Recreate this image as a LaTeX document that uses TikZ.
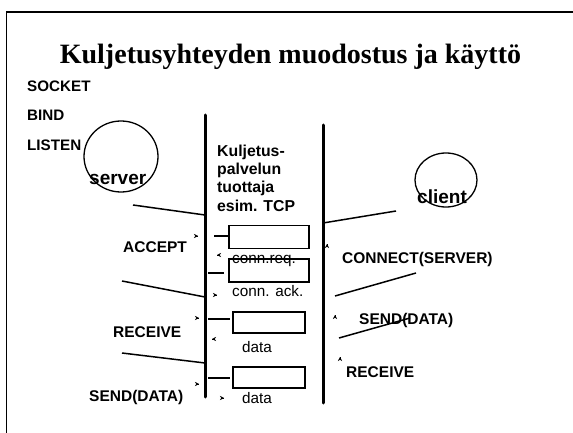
\documentclass[tikz,border=0pt]{standalone}
\usepackage{fontspec}
\setmainfont{Liberation Sans}
\newfontfamily\titlefont{Liberation Serif}
\usetikzlibrary{arrows.meta,calc}
\begin{document}
\begin{tikzpicture}[x=1pt,y=-1pt,
  lbl/.style={anchor=base west,inner sep=0pt,font=\fontsize{15.5}{18}\selectfont\bfseries},
  toplbl/.style={anchor=base west,inner sep=0pt,font=\fontsize{15.2}{18}\selectfont\bfseries},
  msg/.style={anchor=base west,inner sep=0pt,font=\fontsize{15.3}{18}\selectfont},
  ent/.style={anchor=base west,inner sep=0pt,font=\fontsize{19}{22}\selectfont\bfseries},
  pkt/.style={draw,line width=1.3pt,minimum width=80pt,minimum height=23pt,inner sep=0pt},
  pkts/.style={draw,line width=1.3pt,minimum width=72pt,minimum height=21pt,inner sep=0pt},
  axis/.style={line width=3pt,line cap=round},
  conn/.style={line width=1.5pt},
  tipr/.style={-{Stealth[length=4pt,width=4pt]},line width=0.4pt}]
\useasboundingbox (0,0) rectangle (573,433);
% frame
\coordinate (ftl) at (6.5,12);
\coordinate (ftr) at (573,12);
\coordinate (fbl) at (6.5,433);
\draw[line width=1.5pt] (fbl) -- (ftl) -- (ftr);
% title
\node[anchor=base,inner sep=0pt,font=\titlefont\fontsize{28}{32}\selectfont\bfseries] (title) at (290.5,64) {Kuljetusyhteyden muodostus ja käyttö};
% top labels
\node[toplbl] (socket) at (27,92) {SOCKET};
\node[toplbl] (bind) at (27,121) {BIND};
\node[toplbl] (listen) at (27,151) {LISTEN};
% server / client
\draw[line width=1.3pt] (121,156.5) ellipse [x radius=37, y radius=35.5];
\node[ent] (server) at (89,184) {server};
\draw[line width=1.3pt] (446,180) ellipse [x radius=31, y radius=27];
\node[ent] (client) at (417,203) {client};
% vertical axes
\coordinate (lt) at (205,115);
\coordinate (lb) at (205,397);
\coordinate (rt) at (323,125);
\coordinate (rb) at (323,403);
\draw[axis] (lt) -- (lb);
\draw[axis] (rt) -- (rb);
% provider text
\node[anchor=north west,inner sep=0pt,align=left,font=\fontsize{15.8}{18.3}\selectfont\bfseries] (tcp) at (217,144.5) {Kuljetus-\\palvelun\\tuottaja\\esim. TCP};
% packets
\node[pkt] (b1) at (269,237) {};
\node[pkt] (b2) at (269,270.5) {};
\node[pkts] (b3) at (269,322.5) {};
\node[pkts] (b4) at (269,377.5) {};
\coordinate (s1) at (214,236);
\coordinate (s2) at (208,273);
\coordinate (s2e) at (224,273);
\coordinate (s3) at (208,319);
\coordinate (s3e) at (230,319);
\coordinate (s4) at (208,378);
\coordinate (s4e) at (230,378);
\draw[line width=1.3pt] (s1) -- (b1.west |- s1);
\draw[line width=1.3pt] (s2) -- (s2e);
\draw[line width=1.3pt] (s3) -- (s3e);
\draw[line width=1.3pt] (s4) -- (s4e);
\node[msg] (creq) at (232,263) {conn.req.};
\node[msg] (cack) at (232,296) {conn. ack.};
\node[msg] (d1) at (242,352) {data};
\node[msg] (d2) at (242,403) {data};
% left slanted lines
\coordinate (l1a) at (133,205); \coordinate (l1b) at (205,215);
\coordinate (l2a) at (122,281); \coordinate (l2b) at (205,297);
\coordinate (l3a) at (122,353); \coordinate (l3b) at (205,363);
\draw[conn] (l1a) -- (l1b);
\draw[conn] (l2a) -- (l2b);
\draw[conn] (l3a) -- (l3b);
% right slanted lines
\coordinate (r1a) at (323,223); \coordinate (r1b) at (396,211);
\coordinate (r2a) at (335,296); \coordinate (r2b) at (416,273);
\coordinate (r3a) at (339,338); \coordinate (r3b) at (410,318);
\draw[conn] (r1a) -- (r1b);
\draw[conn] (r2a) -- (r2b);
\draw[conn] (r3a) -- (r3b);
% labels
\node[lbl] (accept) at (123,252) {ACCEPT};
\node[lbl] (recvl) at (113,337) {RECEIVE};
\node[lbl] (sendl) at (89,401) {SEND(DATA)};
\node[lbl] (connect) at (342,263) {CONNECT(SERVER)};
\node[lbl] (sendr) at (359,324) {SEND(DATA)};
\node[lbl] (recvr) at (346,377) {RECEIVE};
% tiny arrow tips
\foreach \x/\y in {198/236, 217/295, 199/318, 199/384, 224/398}
  \draw[tipr] (\x-0.3,\y) -- (\x,\y);
\foreach \x/\y in {217/255, 212/339}
  \draw[tipr] (\x+0.3,\y) -- (\x,\y);
\foreach \x/\y in {327/244, 335/315, 340/357}
  \draw[tipr] (\x,\y+0.3) -- (\x,\y);
\end{tikzpicture}
\end{document}
